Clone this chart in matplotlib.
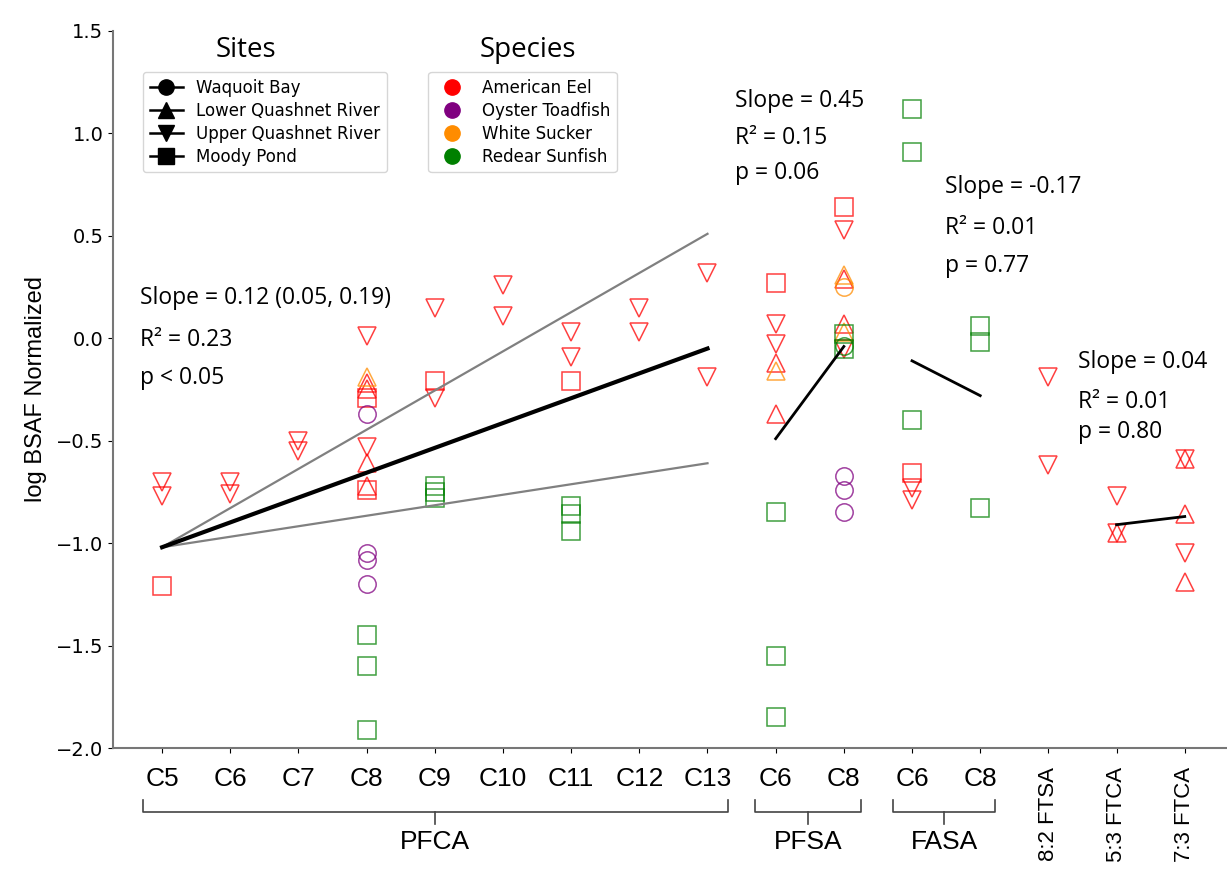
"""Log BSAF (normalized) by PFAS compound, split by fish species and sampling site."""

import matplotlib
matplotlib.use("Agg")
import matplotlib.pyplot as plt
from matplotlib.lines import Line2D

W, H = 1227, 871

CATEGORIES = ["C5", "C6", "C7", "C8", "C9", "C10", "C11", "C12", "C13",
              "C6", "C8", "C6", "C8", "8:2 FTSA", "5:3 FTCA", "7:3 FTCA"]

SPECIES = ["American Eel", "Oyster Toadfish", "White Sucker", "Redear Sunfish"]
SPECIES_COLORS = ["#ff0000", "#800080", "#ff8c00", "#008000"]
SITES = ["Waquoit Bay", "Lower Quashnet River", "Upper Quashnet River", "Moody Pond"]
SITE_MARKERS = ["o", "^", "v", "s"]

# one entry per fish sample: category index, value, species index, site index
point_cat = [0, 0, 0,
             1, 1,
             2, 2,
             3, 3, 3, 3, 3, 3, 3, 3, 3, 3, 3, 3, 3, 3, 3, 3,
             4, 4, 4, 4, 4, 4,
             5, 5,
             6, 6, 6, 6, 6, 6,
             7, 7,
             8, 8,
             9, 9, 9, 9, 9, 9, 9, 9, 9,
             10, 10, 10, 10, 10, 10, 10, 10, 10, 10, 10, 10, 10, 10,
             11, 11, 11, 11, 11, 11,
             12, 12, 12,
             13, 13,
             14, 14, 14,
             15, 15, 15, 15, 15]
point_val = [-0.70, -0.77, -1.21,
             -0.70, -0.76,
             -0.50, -0.55,
             0.01, -0.53, -0.22, -0.25, -0.61, -0.72, -0.29, -0.74,
             -0.37, -1.05, -1.08, -1.20, -1.45, -1.60, -1.91, -0.19,
             0.15, -0.29, -0.21, -0.72, -0.75, -0.78,
             0.26, 0.11,
             0.03, -0.09, -0.21, -0.82, -0.86, -0.94,
             0.15, 0.03,
             0.32, -0.19,
             0.27, 0.07, -0.03, -0.12, -0.37, -0.16, -0.85, -1.55, -1.85,
             0.64, 0.53, 0.31, 0.29, 0.25, 0.07, 0.02, 0.03, -0.05, -0.04, -0.05,
             -0.67, -0.74, -0.85,
             1.12, 0.91, -0.40, -0.66, -0.73, -0.79,
             0.06, -0.02, -0.83,
             -0.19, -0.62,
             -0.77, -0.95, -0.95,
             -0.59, -0.59, -0.86, -1.05, -1.19]
point_species = [0, 0, 0,
                 0, 0,
                 0, 0,
                 0, 0, 0, 0, 0, 0, 0, 0, 1, 1, 1, 1, 3, 3, 3, 2,
                 0, 0, 0, 3, 3, 3,
                 0, 0,
                 0, 0, 0, 3, 3, 3,
                 0, 0,
                 0, 0,
                 0, 0, 0, 0, 0, 2, 3, 3, 3,
                 0, 0, 2, 0, 2, 0, 3, 2, 3, 3, 0, 1, 1, 1,
                 3, 3, 3, 0, 0, 0,
                 3, 3, 3,
                 0, 0,
                 0, 0, 0,
                 0, 0, 0, 0, 0]
point_site = [2, 2, 3,
              2, 2,
              2, 2,
              2, 2, 1, 1, 1, 1, 3, 3, 0, 0, 0, 0, 3, 3, 3, 1,
              2, 2, 3, 3, 3, 3,
              2, 2,
              2, 2, 3, 3, 3, 3,
              2, 2,
              2, 2,
              3, 2, 2, 1, 1, 1, 3, 3, 3,
              3, 2, 1, 1, 0, 1, 3, 1, 3, 0, 2, 0, 0, 0,
              3, 3, 3, 3, 2, 2,
              3, 3, 3,
              2, 2,
              2, 2, 1,
              1, 2, 1, 2, 1]

# regression lines (category index, fitted value at each end)
pfca_fit_x = [0, 8]
pfca_fit_y = [-1.02, -0.05]
pfca_upper_y = [-1.02, 0.51]
pfca_lower_y = [-1.02, -0.61]
pfsa_fit_x = [9, 10]
pfsa_fit_y = [-0.49, -0.04]
fasa_fit_x = [11, 12]
fasa_fit_y = [-0.11, -0.28]
ftca_fit_x = [14, 15]
ftca_fit_y = [-0.91, -0.87]

# compound groups under the x axis: label, first/last category, centre
GROUPS = [("PFCA", -0.28, 8.3, 4.0),
          ("PFSA", 8.7, 10.25, 9.47),
          ("FASA", 10.72, 12.21, 11.47)]

NARROW = ["Liberation Sans", "DejaVu Sans"]
STAT_FONT = ["Open Sans", "DejaVu Sans"]


def draw_points(ax):
    for s, color in enumerate(SPECIES_COLORS):
        for k, marker in enumerate(SITE_MARKERS):
            xs = [x for x, sp, st in zip(point_cat, point_species, point_site) if sp == s and st == k]
            ys = [y for y, sp, st in zip(point_val, point_species, point_site) if sp == s and st == k]
            if xs:
                ax.plot(xs, ys, linestyle="none", marker=marker, markersize=12.5,
                        markerfacecolor="none", markeredgecolor=color,
                        markeredgewidth=1.1, alpha=0.75, zorder=3)


def draw_fits(ax):
    ax.plot(pfca_fit_x, pfca_upper_y, color="grey", lw=1.6, zorder=4)
    ax.plot(pfca_fit_x, pfca_lower_y, color="grey", lw=1.6, zorder=4)
    ax.plot(pfca_fit_x, pfca_fit_y, color="black", lw=3, zorder=5)
    for xs, ys in [(pfsa_fit_x, pfsa_fit_y), (fasa_fit_x, fasa_fit_y), (ftca_fit_x, ftca_fit_y)]:
        ax.plot(xs, ys, color="black", lw=2, zorder=5)


def draw_stats(ax):
    blocks = [
        (-0.32, [(0.195, "Slope = 0.12 (0.05, 0.19)"), (-0.01, "R² = 0.23"), (-0.195, "p < 0.05")]),
        (8.4, [(1.16, "Slope = 0.45"), (0.976, "R² = 0.15"), (0.805, "p = 0.06")]),
        (11.48, [(0.737, "Slope = -0.17"), (0.537, "R² = 0.01"), (0.351, "p = 0.77")]),
        (13.43, [(-0.117, "Slope = 0.04"), (-0.312, "R² = 0.01"), (-0.459, "p = 0.80")]),
    ]
    for x, lines in blocks:
        for y, txt in lines:
            ax.text(x, y, txt, ha="left", va="center", fontsize=16.5,
                    family=STAT_FONT, zorder=6)


def draw_legends(ax):
    site_handles = [Line2D([0], [0], color="black", lw=1.8, marker=m, markersize=11)
                    for m in SITE_MARKERS]
    leg1 = ax.legend(site_handles, SITES, loc="upper left", bbox_to_anchor=(0.027, 0.943),
                     fontsize=12, handlelength=2.0, borderaxespad=0, labelspacing=0.3)
    ax.add_artist(leg1)
    species_handles = [Line2D([0], [0], color=c, lw=0, marker="o", markersize=11)
                       for c in SPECIES_COLORS]
    ax.legend(species_handles, SPECIES, loc="upper left", bbox_to_anchor=(0.283, 0.943),
              fontsize=12, handlelength=2.0, borderaxespad=0, labelspacing=0.3)
    ax.text(0.119, 0.9735, "Sites", transform=ax.transAxes, ha="center", va="center",
            fontsize=20, family=STAT_FONT)
    ax.text(0.372, 0.9735, "Species", transform=ax.transAxes, ha="center", va="center",
            fontsize=20, family=STAT_FONT)


def draw_groups(ax):
    trans = ax.get_xaxis_transform()
    y_bar, y_end, y_mid, y_txt = -0.089, -0.073, -0.106, -0.131
    for label, x0, x1, xc in GROUPS:
        ax.plot([x0, x0, x1, x1], [y_end, y_bar, y_bar, y_end], color="#444444",
                lw=1.2, transform=trans, clip_on=False)
        ax.plot([xc, xc], [y_bar, y_mid], color="#444444", lw=1.2,
                transform=trans, clip_on=False)
        ax.text(xc, y_txt, label, transform=trans, ha="center", va="center",
                fontsize=19, family=NARROW)


def main():
    fig = plt.figure(figsize=(W / 100, H / 100), dpi=100)
    ax = fig.add_axes([113 / W, 1 - 748 / H, 1 - 113 / W, (748 - 31) / H])

    draw_points(ax)
    draw_fits(ax)

    ax.set_xlim(-0.72, 15.62)
    ax.set_ylim(-2.0, 1.5)
    ax.set_yticks([-2.0, -1.5, -1.0, -0.5, 0.0, 0.5, 1.0, 1.5])
    ax.tick_params(axis="y", labelsize=14)
    ax.set_xticks(range(len(CATEGORIES)))
    ax.set_xticklabels(CATEGORIES, fontsize=19, family=NARROW)
    for lbl in ax.get_xticklabels()[13:]:
        lbl.set_rotation(90)
        lbl.set_fontsize(16)
    ax.tick_params(axis="x", pad=10)
    ax.set_ylabel("log BSAF Normalized", fontsize=17, family=NARROW, labelpad=6)

    for side in ["top", "right"]:
        ax.spines[side].set_visible(False)
    for side in ["left", "bottom"]:
        ax.spines[side].set_color("#777777")
        ax.spines[side].set_linewidth(1.5)

    draw_stats(ax)
    draw_legends(ax)
    draw_groups(ax)

    fig.savefig("out.png", dpi=100)
    plt.close(fig)


if __name__ == "__main__":
    main()
